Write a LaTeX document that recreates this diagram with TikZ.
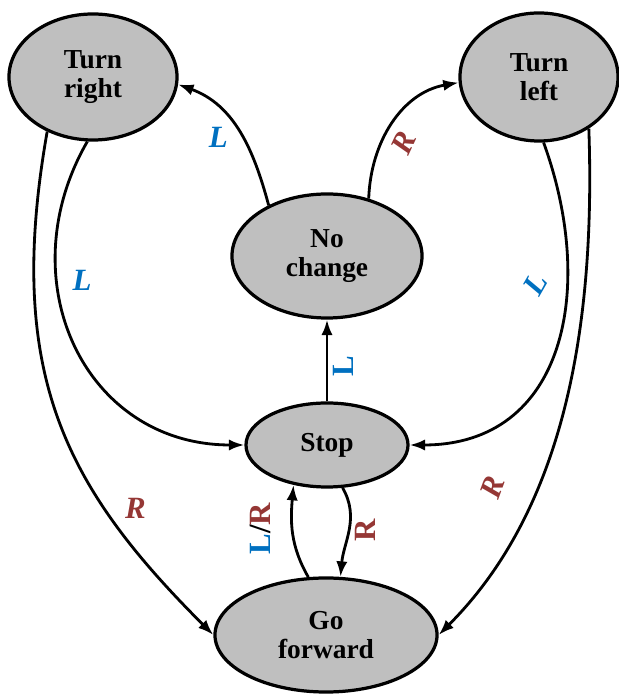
\documentclass[tikz,border=0pt]{standalone}
\usepackage{fontspec}
\setmainfont{Liberation Serif}
\usepackage{xcolor}
\usetikzlibrary{shapes.geometric,arrows.meta}
\definecolor{lblue}{RGB}{0,112,192}
\definecolor{lred}{RGB}{149,55,53}
\definecolor{stategray}{RGB}{191,191,191}

\begin{document}
\begin{tikzpicture}[x=0.025cm,y=0.025cm,
  state/.style={ellipse,draw,line width=2.3pt,fill=stategray,inner sep=0pt,align=center,font=\bfseries\fontsize{19.5}{21}\selectfont},
  link/.style={line width=2pt,-{Latex[length=11pt,width=8pt]}},
  lab/.style={font=\bfseries\itshape\fontsize{22}{26}\selectfont},
  vlab/.style={font=\bfseries\fontsize{22}{26}\selectfont,rotate=90}]
\useasboundingbox (0,0) rectangle (618,695);
\node[state,minimum width=4.2cm,minimum height=3.15cm] (tr) at (93,618) {Turn\\right};
\node[state,minimum width=3.95cm,minimum height=3.2cm] (tl) at (539,618) {Turn\\left};
\node[state,minimum width=4.75cm,minimum height=3.1cm] (nc) at (327,439) {No\\change};
\node[state,minimum width=4.05cm,minimum height=2.1cm] (st) at (327,250) {Stop};
\node[state,minimum width=5.55cm,minimum height=2.85cm] (gf) at (326,60) {Go\\forward};
\draw[link] (nc.139) to[out=105,in=-20] node[pos=.45,xshift=-.6cm,lab,lblue] (l1) {L} (tr.-5);
\draw[link] (nc.54) to[out=88,in=190] node[pos=.35,xshift=.55cm,lab,lred,rotate=65] (l2) {R} (tl.184);
\draw[link] (tr.265) to[out=240,in=180,looseness=1.2] node[pos=.33,xshift=.63cm,lab,lblue] (l3) {L} (st.west);
\draw[link] (tr.230) to[out=260,in=135,out looseness=1.2] node[pos=.72,xshift=.62cm,yshift=.2cm,lab,lred] (l4) {R} (gf.west);
\draw[link] (tl.274) to[out=290,in=0,looseness=1.2] node[pos=.33,xshift=-.78cm,lab,lblue,rotate=60] (l5) {L} (st.east);
\draw[link] (tl.314) to[out=272,in=45,out looseness=1.1,in looseness=.78] node[pos=.63,xshift=-1.12cm,lab,lred,rotate=70] (l6) {R} (gf.east);
\draw[link] (st.north) -- node[pos=.5,xshift=.4cm,yshift=-.15cm,vlab,lblue] (l7) {L} (nc.south);
\draw[link] (gf.107) to[out=120,in=265] node[pos=.5,xshift=-.8cm,yshift=.1cm,vlab] (l8) {{\color{lblue}L}/{\color{lred}R}} (st.230);
\draw[link] (st.290) to[out=-60,in=85] node[pos=.5,xshift=.4cm,vlab,lred] (l9) {R} (gf.76);
\end{tikzpicture}
\end{document}
